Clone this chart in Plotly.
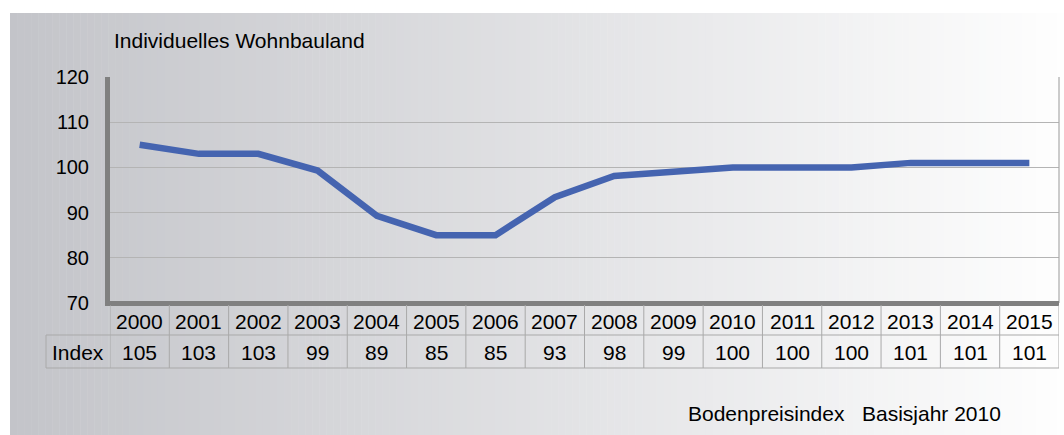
import plotly.graph_objects as go

years = ["2000", "2001", "2002", "2003", "2004", "2005", "2006", "2007",
         "2008", "2009", "2010", "2011", "2012", "2013", "2014", "2015"]
index_values = [105, 103, 103, 99.3, 89.3, 85, 85, 93.4, 98.1, 99, 100, 100, 100, 101, 101, 101]
index_labels = ["105", "103", "103", "99", "89", "85", "85", "93", "98", "99",
                "100", "100", "100", "101", "101", "101"]
y_ticks = [70, 80, 90, 100, 110, 120]
title_text = "Individuelles Wohnbauland"
row_label = "Index"
footer_text = "Bodenpreisindex   Basisjahr 2010"

W, H = 1064, 435
L, R, T, B = 110, 1059, 77, 303
FONT = "Liberation Sans, Arial, sans-serif"


def px(xpix):
    return (xpix - L) / (R - L)


def py(ypix):
    return (B - ypix) / (B - T)


fig = go.Figure()
fig.add_trace(go.Scatter(
    x=list(range(len(years))), y=index_values, mode="lines",
    line=dict(color="#4564b0", width=6.5), hoverinfo="skip", showlegend=False))

shapes = []
# gradient background
n = 150
x0, x1 = 10, W
for i in range(n):
    a = x0 + (x1 - x0) * i / n
    b = x0 + (x1 - x0) * (i + 1) / n + 0.5
    t = (i + 0.5) / n
    r = round(195 + (254 - 195) * t)
    g = round(196 + (254 - 196) * t)
    bl = round(201 + (254 - 201) * t)
    shapes.append(dict(type="rect", xref="paper", yref="paper",
                       x0=px(a), x1=px(b), y0=py(13), y1=py(H + 2),
                       line=dict(width=0), fillcolor=f"rgb({r},{g},{bl})",
                       layer="below"))

# plot frame
shapes.append(dict(type="line", xref="paper", yref="paper", x0=1, x1=1,
                   y0=0, y1=1, line=dict(color="#a8a8a8", width=1.2)))
shapes.append(dict(type="line", xref="paper", yref="paper", x0=px(L - 2.5), x1=px(L - 2.5),
                   y0=py(B + 2.5), y1=1, line=dict(color="#808080", width=5)))
shapes.append(dict(type="line", xref="paper", yref="paper", x0=px(L - 5), x1=1,
                   y0=py(B + 0.5), y1=py(B + 0.5), line=dict(color="#808080", width=5)))

# table lines
tcol = "#a9a9a9"
row1_top, row1_bot, row2_bot = 305, 335, 368
nyear = len(years)
for k in range(nyear + 1):
    xv = k - 0.5
    shapes.append(dict(type="line", xref="x", yref="paper", x0=xv, x1=xv,
                       y0=py(row1_top), y1=py(row2_bot), line=dict(color=tcol, width=1)))
shapes.append(dict(type="line", xref="paper", yref="paper", x0=px(46), x1=px(46),
                   y0=py(row1_bot), y1=py(row2_bot), line=dict(color=tcol, width=1)))
for yy in (row1_bot, row2_bot):
    shapes.append(dict(type="line", xref="paper", yref="paper", x0=px(46), x1=1,
                       y0=py(yy), y1=py(yy), line=dict(color=tcol, width=1)))

TFS = 21
annotations = []
for i, (yr, lab) in enumerate(zip(years, index_labels)):
    annotations.append(dict(x=i, xref="x", y=py(321), yref="paper", text=yr,
                            showarrow=False, font=dict(size=TFS, color="#000", family=FONT),
                            xanchor="center", yanchor="middle"))
    annotations.append(dict(x=i, xref="x", y=py(352), yref="paper", text=lab,
                            showarrow=False, font=dict(size=TFS, color="#000", family=FONT),
                            xanchor="center", yanchor="middle"))
annotations.append(dict(x=px(78), xref="paper", y=py(352), yref="paper", text=row_label,
                        showarrow=False, font=dict(size=TFS, color="#000", family=FONT),
                        xanchor="center", yanchor="middle"))
annotations.append(dict(x=px(112), xref="paper", y=py(41), yref="paper", text=title_text,
                        showarrow=False, font=dict(size=21, color="#000", family=FONT),
                        xanchor="left", yanchor="middle"))
annotations.append(dict(x=px(686), xref="paper", y=py(413), yref="paper", text=footer_text,
                        showarrow=False, font=dict(size=21, color="#000", family=FONT),
                        xanchor="left", yanchor="middle"))

fig.update_layout(
    width=W, height=H,
    margin=dict(l=L, r=W - R, t=T, b=H - B, pad=0),
    paper_bgcolor="white", plot_bgcolor="rgba(0,0,0,0)",
    showlegend=False,
    xaxis=dict(range=[-0.5, nyear - 0.5], showticklabels=False, showgrid=False,
               zeroline=False, showline=False, ticks=""),
    yaxis=dict(range=[70, 120], tickvals=y_ticks, showgrid=True, gridcolor="#b4b4b4",
               gridwidth=1, zeroline=False, showline=False, ticks="outside",
               ticklen=16, tickcolor="rgba(0,0,0,0)",
               tickfont=dict(size=20, color="#000", family=FONT)),
    shapes=shapes, annotations=annotations,
)

fig.write_html("out.html", config={"displayModeBar": False},
               post_script="document.body.style.margin='0';")
